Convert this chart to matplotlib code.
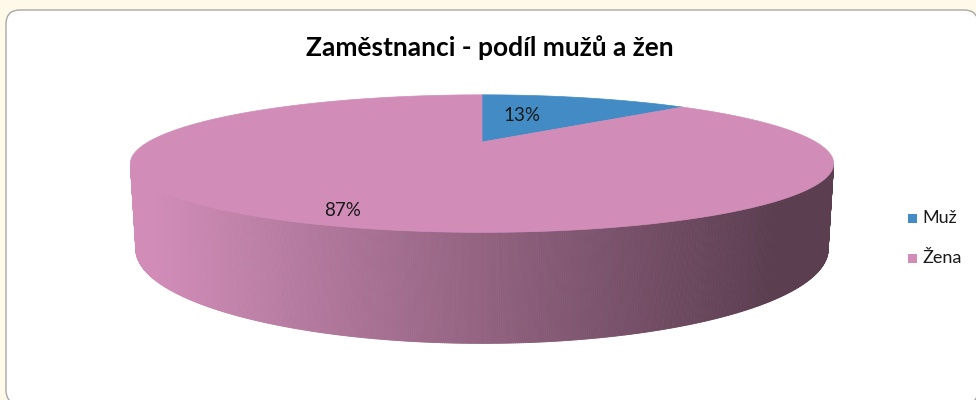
import numpy as np
import matplotlib
matplotlib.use("Agg")
import matplotlib.pyplot as plt
from matplotlib.patches import Polygon, FancyBboxPatch, Rectangle
from matplotlib.collections import PolyCollection
from matplotlib.colors import to_rgb

title = "Zaměstnanci - podíl mužů a žen"
categories = ["Muž", "Žena"]
shares = [13, 87]
colors = ["#428BC4", "#D18DB8"]

plt.rcParams["font.family"] = ["Lato", "DejaVu Sans"]

W, H = 976, 400
fig = plt.figure(figsize=(W / 100, H / 100), dpi=100)
fig.patch.set_facecolor("#FFF9E9")
ax = fig.add_axes([0, 0, 1, 1])
ax.set_xlim(0, W)
ax.set_ylim(H, 0)
ax.axis("off")

# chart area with rounded corners
ax.add_patch(FancyBboxPatch((6, 10), 972, 394, boxstyle="round,pad=0,rounding_size=14",
                            facecolor="white", edgecolor="#A8A8A8", lw=1.0))

# simple perspective camera for the 3d pie (pixel space)
theta = np.radians(10.7)
F0 = 3.13
scale = 1045
cx, cy = 482, 142
thick = 0.241
cam_dist = F0 * np.cos(theta)


def project(X, Z, h):
    f = F0 - h * np.sin(theta) + Z * np.cos(theta)
    v = (h * np.cos(theta) + Z * np.sin(theta)) / f
    return cx + scale * X / f, cy - scale * v


vals = np.array(shares, dtype=float)
edges = np.concatenate([[0], np.cumsum(vals)]) / vals.sum() * 2 * np.pi

# side of the cylinder (only the part facing us)
n = 1440
phi = np.linspace(0, 2 * np.pi, n + 1)
quads, qcols = [], []
for i in range(n):
    a0, a1 = phi[i], phi[i + 1]
    am = 0.5 * (a0 + a1)
    if np.cos(am) > -1 / cam_dist:
        continue
    k = np.searchsorted(edges, am) - 1
    xt0, yt0 = project(np.sin(a0), np.cos(a0), 0)
    xt1, yt1 = project(np.sin(a1), np.cos(a1), 0)
    xb1, yb1 = project(np.sin(a1), np.cos(a1), -thick)
    xb0, yb0 = project(np.sin(a0), np.cos(a0), -thick)
    quads.append([(xt0, yt0), (xt1, yt1), (xb1, yb1), (xb0, yb0)])
    t = np.clip(((xt0 + xt1) / 2 - 150) / (770 - 150), 0, 1)
    shade = 1.0 - 0.56 * t
    qcols.append(tuple(np.array(to_rgb(colors[k])) * shade))
ax.add_collection(PolyCollection(quads, facecolors=qcols, edgecolors=qcols, linewidths=0.6))

# top faces
for k in range(len(vals)):
    a = np.linspace(edges[k], edges[k + 1], 300)
    xs, ys = project(np.sin(a), np.cos(a), 0)
    pts = [(cx, cy)] + list(zip(xs, ys))
    ax.add_patch(Polygon(pts, closed=True, facecolor=colors[k], edgecolor=colors[k], lw=0.5))

# data labels
label_r = [0.42, 0.84]
label_off = [(-10, -5), (8, 5)]
for k in range(len(vals)):
    am = 0.5 * (edges[k] + edges[k + 1])
    lx, ly = project(label_r[k] * np.sin(am), label_r[k] * np.cos(am), 0)
    pct = vals[k] / vals.sum() * 100
    ax.text(lx + label_off[k][0], ly + label_off[k][1], f"{pct:.0f}%",
            ha="center", va="center", fontsize=13.5, color="#1a1a1a")

# title
ax.text(490, 56, title, ha="center", va="baseline", fontsize=19, fontweight="bold", color="black")

# legend
for k, (cat, col) in enumerate(zip(categories, colors)):
    ly = 218 + k * 40
    ax.add_patch(Rectangle((908, ly - 4.5), 9, 9, facecolor=col, edgecolor="none"))
    ax.text(922, ly, cat, ha="left", va="center", fontsize=13, color="#1a1a1a")

fig.savefig("out.png", dpi=100, facecolor=fig.get_facecolor())
